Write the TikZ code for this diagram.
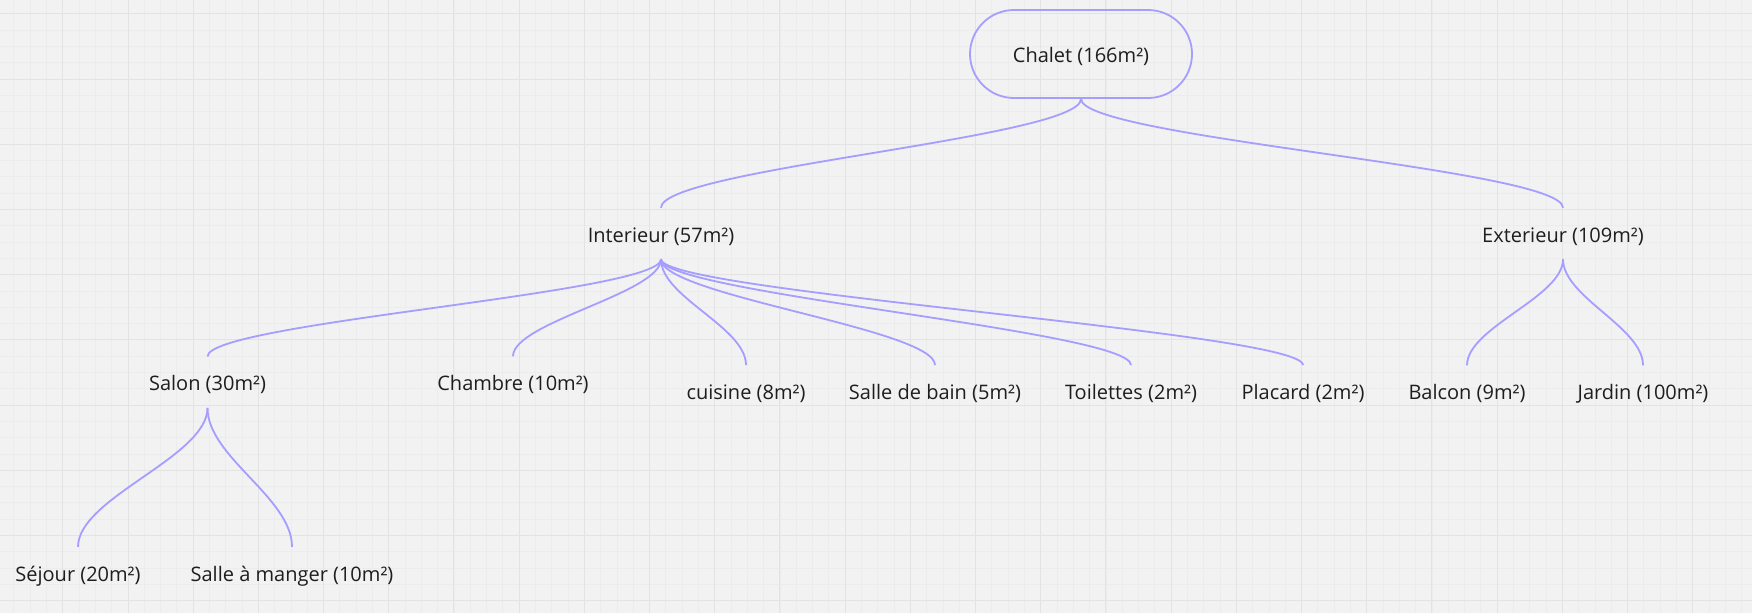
\documentclass[tikz,border=0pt]{standalone}
\usepackage{fontspec}
\setmainfont{Open Sans}
\usetikzlibrary{shapes.misc}
\definecolor{bg}{HTML}{F2F2F2}
\definecolor{gmajor}{HTML}{E3E3E3}
\definecolor{gminor}{HTML}{ECECEC}
\definecolor{link}{HTML}{A59EFF}
\definecolor{ink}{HTML}{1E1E1E}
\begin{document}
\begin{tikzpicture}[x=1pt,y=-1pt,
  lbl/.style={font=\fontsize{20}{24}\selectfont, text=ink, inner sep=0pt, anchor=base,
              text height=34pt, text depth=17pt},
  rootbox/.style={rounded rectangle, draw=link, line width=1.8pt, minimum width=222pt,
              minimum height=88pt, inner sep=0pt, font=\fontsize{20}{24}\selectfont, text=ink,
              text height=20pt, text depth=3pt},
  conn/.style={draw=link, line width=1.8pt},
  minorline/.style={draw=gminor, line width=1pt},
  majorline/.style={draw=gmajor, line width=1.4pt}]
\fill[bg] (0,0) rectangle (1752,613);
\useasboundingbox (0,0) rectangle (1752,613);
% grid
\foreach \i in {0,...,107} {\draw[minorline] ({round(13.4+16.3*\i)+0.5},0) -- ({round(13.4+16.3*\i)+0.5},613);}
\foreach \j in {0,...,37} {\draw[minorline] (0,{round(13.4+16.3*\j)+0.5}) -- (1752,{round(13.4+16.3*\j)+0.5});}
\foreach \i in {0,...,26} {\draw[majorline] ({round(62.3+65.2*\i)+0.5},0) -- ({round(62.3+65.2*\i)+0.5},613);}
\foreach \j in {0,...,9} {\draw[majorline] (0,{round(13.4+65.2*\j)+0.5}) -- (1752,{round(13.4+65.2*\j)+0.5});}
% nodes
\node[rootbox] (chalet) at (1081,54) {Chalet (166m²)};
\node[lbl] (int) at (661,242) {Interieur (57m²)};
\node[lbl] (ext) at (1563,242) {Exterieur (109m²)};
\node[lbl] (salon) at (207.5,390.7) {Salon (30m²)};
\node[lbl] (chambre) at (513,390.5) {Chambre (10m²)};
\node[lbl] (cuisine) at (746,399.3) {cuisine (8m²)};
\node[lbl] (sdb) at (935,399.3) {Salle de bain (5m²)};
\node[lbl] (toil) at (1131,399.3) {Toilettes (2m²)};
\node[lbl] (plac) at (1303,399.3) {Placard (2m²)};
\node[lbl] (balcon) at (1467,399.5) {Balcon (9m²)};
\node[lbl] (jardin) at (1643,399.5) {Jardin (100m²)};
\node[lbl] (sejour) at (78,581) {Séjour (20m²)};
\node[lbl] (sam) at (292,581) {Salle à manger (10m²)};
% connectors
\draw[conn] (chalet.south) .. controls +(0,39) and +(0,-39) .. (int.north);
\draw[conn] (chalet.south) .. controls +(0,39) and +(0,-39) .. (ext.north);
\draw[conn] (int.south) .. controls +(0,34) and +(0,-34) .. (salon.north);
\draw[conn] (int.south) .. controls +(0,34) and +(0,-34) .. (chambre.north);
\draw[conn] (int.south) .. controls +(0,38) and +(0,-38) .. (cuisine.north);
\draw[conn] (int.south) .. controls +(0,36) and +(0,-36) .. (sdb.north);
\draw[conn] (int.south) .. controls +(0,34) and +(0,-34) .. (toil.north);
\draw[conn] (int.south) .. controls +(0,33) and +(0,-33) .. (plac.north);
\draw[conn] (ext.south) .. controls +(0,38) and +(0,-38) .. (balcon.north);
\draw[conn] (ext.south) .. controls +(0,38) and +(0,-38) .. (jardin.north);
\draw[conn] (salon.south) .. controls +(0,49) and +(0,-49) .. (sejour.north);
\draw[conn] (salon.south) .. controls +(0,49) and +(0,-49) .. (sam.north);
\end{tikzpicture}
\end{document}
